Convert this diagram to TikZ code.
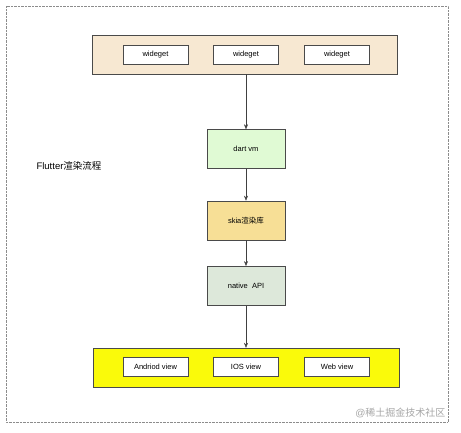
\documentclass[tikz,border=0pt]{standalone}
\usepackage{fontspec}
\setmainfont{Liberation Sans}
\newfontfamily\cjk{Noto Sans CJK SC}
\usepackage{tikz}
\usetikzlibrary{positioning,arrows.meta}

\definecolor{topfill}{HTML}{F7E8D2}
\definecolor{dartfill}{HTML}{E0FAD4}
\definecolor{skiafill}{HTML}{F7DF96}
\definecolor{nativefill}{HTML}{DDE8DA}
\definecolor{viewfill}{HTML}{FAFA0A}
\definecolor{edge}{HTML}{4A4A4A}

\tikzset{
  layer/.style={draw=edge,minimum width=305pt,minimum height=39pt},
  item/.style={draw=edge,fill=white,minimum width=65pt,minimum height=19pt,font=\fontsize{7.5}{8}\selectfont},
  stage/.style={draw=edge,minimum width=78pt,minimum height=39pt,font=\fontsize{7.5}{8}\selectfont},
  flow/.style={-{Stealth[length=5pt,width=4pt]},draw=black!75}
}

\begin{document}
\begin{tikzpicture}[x=1pt,y=-1pt]
\useasboundingbox (0,0) rectangle (461,432);
\draw[densely dotted,gray!90] (6,6) rectangle (448,422);

\node (widgets)[layer,fill=topfill] at (245,54.5){};
\node (wideget1)[item] at (155.5,54.5){wideget};
\node (wideget2)[item] at (246,54.5){wideget};
\node (wideget3)[item] at (337,54.5){wideget};

\node (dartvm)[stage,fill=dartfill] at (246,149){dart vm};
\node (skia)[stage,fill=skiafill,below=32pt of dartvm]{skia{\cjk 渲染库}};
\node (native)[stage,fill=nativefill,below=26pt of skia]{native\ \ API};

\node (views)[layer,fill=viewfill,minimum width=306pt] at (246,367.5){};
\node (android)[item] at (155.5,367){Andriod view};
\node (ios)[item] at (246,367){IOS view};
\node (web)[item] at (337,367){Web view};

\node (title)[anchor=west,font=\fontsize{9.5}{10}\selectfont] at (33,166){Flutter{\cjk 渲染流程}};
\node (mark)[anchor=east,text=gray!70,font=\fontsize{10}{11}\selectfont] at (449,413){@{\cjk 稀土掘金技术社区}};

% draw the connections
\draw[flow] (widgets.south -| dartvm)--(dartvm);
\draw[flow] (dartvm)--(skia);
\draw[flow] (skia)--(native);
\draw[flow] (native)--(views.north -| native);
\end{tikzpicture}
\end{document}
